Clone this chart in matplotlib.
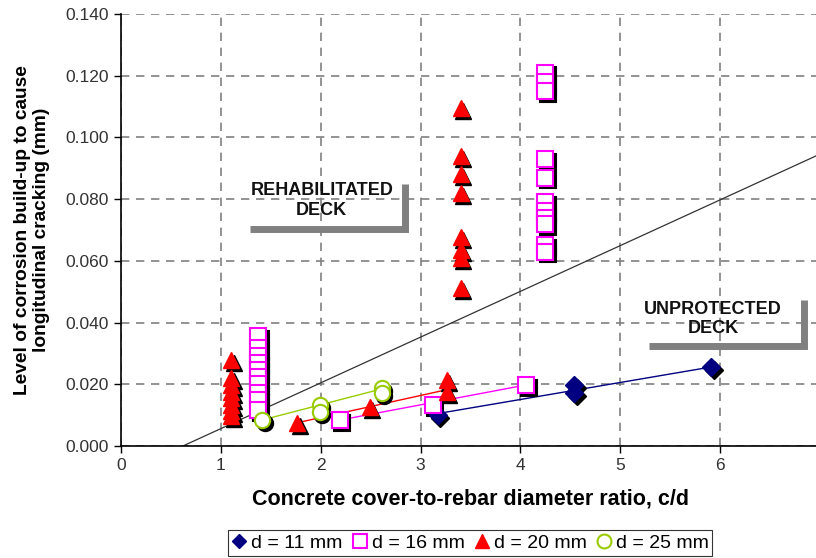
import matplotlib
matplotlib.use("Agg")
import matplotlib.pyplot as plt
import matplotlib.transforms as mtransforms
from matplotlib.lines import Line2D

plt.rcParams['font.family'] = ['Liberation Sans', 'DejaVu Sans']

# ---- data ----
d11_x = [3.17, 4.54, 4.54, 5.91]
d11_y = [0.0100, 0.0198, 0.0172, 0.0256]

d16_x = [1.37] * 10 + [2.19, 3.12, 4.06] + [4.25] * 11
d16_y = [0.0356, 0.0318, 0.0292, 0.0269, 0.0246, 0.0224, 0.0201, 0.0172, 0.0149, 0.0117,
         0.0084, 0.0133, 0.0198,
         0.121, 0.118, 0.115, 0.093, 0.087, 0.079, 0.076, 0.074, 0.072, 0.065, 0.063]

d20_x = [1.10] * 8 + [1.76, 2.49, 3.26, 3.26] + [3.40] * 8
d20_y = [0.0279, 0.0220, 0.0198, 0.0175, 0.0156, 0.0133, 0.0113, 0.0097,
         0.0075, 0.0126, 0.0214, 0.0175,
         0.1095, 0.094, 0.088, 0.082, 0.0677, 0.0635, 0.061, 0.0512]

d25_x = [1.41, 1.99, 1.99, 2.61, 2.61]
d25_y = [0.0084, 0.0133, 0.0110, 0.0188, 0.0172]

# trend lines per series
t11_x, t11_y = [3.17, 5.91], [0.0105, 0.0256]
t16_x, t16_y = [2.19, 4.06], [0.0084, 0.0198]
t20_x, t20_y = [1.76, 3.20], [0.0075, 0.0178]
t25_x, t25_y = [1.41, 2.61], [0.0084, 0.0185]

# boundary line between rehabilitated and unprotected decks
bound_x = [0.62, 7.0]
bound_y = [0.0, 0.0946]

xticks = [0, 1, 2, 3, 4, 5, 6, 7]
xticklabels = ["0", "1", "2", "3", "4", "5", "6", ""]
yticks = [0.0, 0.02, 0.04, 0.06, 0.08, 0.10, 0.12, 0.14]

fig = plt.figure(figsize=(8.16, 5.58), dpi=100)
ax = fig.add_axes([121/816, 112/558, 699/816, 432/558])

ax.set_xlim(0, 7)
ax.set_ylim(0, 0.14)
ax.set_xticks(xticks)
ax.set_xticklabels(xticklabels)
ax.set_yticks(yticks)
ax.set_yticklabels([f"{v:.3f}" for v in yticks])
ax.grid(True, color='#808080', linestyle=(0, (5, 4)), linewidth=1.2)
ax.set_axisbelow(True)
for s in ['top', 'right']:
    ax.spines[s].set_visible(False)
ax.spines['left'].set_linewidth(1.2)
ax.spines['bottom'].set_linewidth(1.2)
ax.tick_params(axis='both', direction='out', length=5, width=1, labelsize=12.5,
               labelcolor='#333333', pad=4)

# boundary line
ax.plot(bound_x, bound_y, color='#333333', lw=0.9, zorder=2)

# trend lines
ax.plot(t11_x, t11_y, color='#000080', lw=1, zorder=3)
ax.plot(t16_x, t16_y, color='#FF00FF', lw=1, zorder=3)
ax.plot(t20_x, t20_y, color='#FF0000', lw=1, zorder=3)
ax.plot(t25_x, t25_y, color='#99CC00', lw=1, zorder=3)

shadow = mtransforms.offset_copy(ax.transData, fig=fig, x=2.0, y=-2.0, units='points')

series = [
    (d11_x, d11_y, dict(marker='D', ms=9, mfc='#000080', mec='#000080', mew=1.0)),
    (d16_x, d16_y, dict(marker='s', ms=11, mfc='white', mec='#FF00FF', mew=1.5)),
    (d20_x, d20_y, dict(marker='^', ms=11, mfc='#FF0000', mec='#FF0000', mew=1.0)),
    (d25_x, d25_y, dict(marker='o', ms=11, mfc='white', mec='#99CC00', mew=1.5)),
]
for xs, ys, st in series:
    sh = dict(st)
    sh['mfc'] = 'black'
    sh['mec'] = 'black'
    ax.plot(xs, ys, ls='none', transform=shadow, zorder=4, **sh)
for xs, ys, st in series:
    ax.plot(xs, ys, ls='none', zorder=5, **st)

# annotations
ax.text(2.01, 0.0795, "REHABILITATED\nDECK", ha='center', va='center',
        fontsize=13, fontweight='bold', color='#111111', linespacing=1.2, zorder=6)
ax.plot([1.29, 2.84, 2.84], [0.0703, 0.0703, 0.0849], color='#808080', lw=5,
        solid_joinstyle='miter', solid_capstyle='butt', zorder=6)
ax.text(5.93, 0.0412, "UNPROTECTED\nDECK", ha='center', va='center',
        fontsize=13, fontweight='bold', color='#111111', linespacing=1.2, zorder=6)
ax.plot([5.29, 6.84, 6.84], [0.0324, 0.0324, 0.0473], color='#808080', lw=5,
        solid_joinstyle='miter', solid_capstyle='butt', zorder=6)

ax.set_xlabel("Concrete cover-to-rebar diameter ratio, c/d", fontsize=15.5,
              fontweight='bold', labelpad=11)
fig.text(32/816, 1 - 230/558, "Level of corrosion build-up to cause\nlongitudinal cracking (mm)",
         rotation=90, ha='center', va='center', fontsize=13.8, fontweight='bold',
         linespacing=1.1)

handles = [
    Line2D([], [], ls='none', marker='D', ms=7, mfc='#000080', mec='#000080'),
    Line2D([], [], ls='none', marker='s', ms=10, mfc='white', mec='#FF00FF', mew=1.5),
    Line2D([], [], ls='none', marker='^', ms=10, mfc='#FF0000', mec='#FF0000'),
    Line2D([], [], ls='none', marker='o', ms=10, mfc='white', mec='#99CC00', mew=1.5),
]
labels = ["d = 11 mm", "d = 16 mm", "d = 20 mm", "d = 25 mm"]
leg = fig.legend(handles, labels, loc='center', bbox_to_anchor=(470/816, 1 - 543/558),
                 ncol=4, fontsize=14, frameon=True, fancybox=False, edgecolor='black',
                 handlelength=0.8, handletextpad=0.2, columnspacing=0.5,
                 borderpad=0.2, borderaxespad=0)
leg.get_frame().set_linewidth(0.8)

fig.savefig("out.png", dpi=100)
